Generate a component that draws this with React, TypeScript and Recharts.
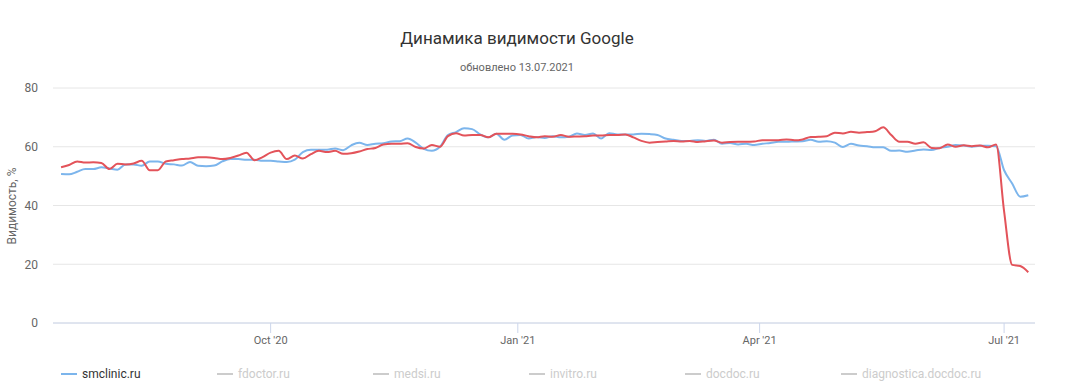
import { LineChart, Line, XAxis, YAxis, CartesianGrid } from "recharts";

// smclinic.ru, Google visibility %, one value every 3 days from 15 Jul 2020
const smclinicValues = [
  50.7, 50.6, 51.5, 52.4, 52.4, 53.0, 52.6, 52.2, 54.0, 54.0,
  53.5, 55.0, 55.0, 54.2, 54.0, 53.6, 54.8, 53.5, 53.4, 53.6,
  55.0, 55.8, 55.8, 55.6, 55.6, 55.2, 55.2, 55.0, 54.8, 55.6,
  58.2, 59.0, 59.0, 59.0, 59.4, 58.8, 60.5, 61.4, 60.6, 61.0,
  61.2, 61.8, 61.9, 62.8, 61.4, 59.3, 58.6, 60.0, 64.0, 65.0,
  66.3, 66.0, 64.2, 63.2, 64.4, 62.4, 63.8, 64.0, 62.8, 63.3,
  63.0, 63.6, 63.2, 63.4, 64.5, 64.0, 64.5, 62.8, 64.6, 64.2,
  64.2, 64.2, 64.4, 64.3, 64.0, 62.8, 62.4, 62.0, 62.0, 62.2,
  62.0, 62.4, 61.0, 61.3, 60.8, 61.0, 60.6, 61.0, 61.3, 61.7,
  61.7, 61.8, 61.9, 62.4, 61.7, 61.9, 61.4, 59.9, 61.0, 60.4,
  60.2, 59.8, 59.8, 58.6, 58.7, 58.3, 58.7, 59.1, 58.9, 59.6,
  60.0, 60.6, 60.4, 60.0, 60.3, 60.3, 60.2, 52.0, 47.5, 43.0,
  43.5,
];

// second (red) line, same dates
const compareValues = [
  53.0, 53.8, 55.0, 54.6, 54.7, 54.5, 52.4, 54.2, 54.0, 54.3,
  55.2, 52.0, 52.0, 55.0, 55.4, 55.8, 56.0, 56.4, 56.4, 56.2,
  55.8, 56.2, 57.0, 58.0, 55.4, 56.5, 58.0, 58.6, 55.8, 57.0,
  56.0, 57.5, 58.6, 58.2, 58.6, 57.6, 57.8, 58.4, 59.2, 59.6,
  60.8, 61.0, 61.0, 61.2, 59.9, 59.4, 60.6, 60.0, 63.6, 64.6,
  63.8, 64.0, 64.0, 63.2, 64.4, 64.4, 64.4, 64.2, 63.6, 63.2,
  63.6, 63.4, 64.0, 63.4, 63.5, 63.6, 63.8, 63.8, 64.0, 64.0,
  64.2, 63.2, 62.0, 61.4, 61.6, 61.8, 62.0, 61.8, 62.0, 61.6,
  61.9, 62.1, 61.4, 61.6, 61.7, 61.7, 61.8, 62.2, 62.2, 62.2,
  62.5, 62.2, 62.5, 63.3, 63.4, 63.6, 64.8, 64.5, 65.1, 64.8,
  65.0, 65.3, 66.6, 64.0, 61.7, 61.7, 61.0, 61.5, 59.6, 59.5,
  60.8, 60.0, 60.5, 60.2, 60.4, 59.8, 60.8, 38.0, 19.8, 19.4,
  17.3,
];

const START = Date.UTC(2020, 6, 15);
const STEP_DAYS = 3;
const DAY = 86400000;

const xTicks = [Date.UTC(2020, 9, 1), Date.UTC(2021, 0, 1), Date.UTC(2021, 3, 1), Date.UTC(2021, 6, 1)];
const xTickLabels = ["Oct '20", "Jan '21", "Apr '21", "Jul '21"];
const yTicks = [0, 20, 40, 60, 80];
const legendNames = ["smclinic.ru", "fdoctor.ru", "medsi.ru", "invitro.ru", "docdoc.ru", "diagnostica.docdoc.ru"];

const rows = smclinicValues.map((v, i) => ({
  t: START + i * STEP_DAYS * DAY,
  smclinic: v,
  compare: compareValues[i],
}));

const FONT = "Roboto, 'Open Sans', sans-serif";
const BLUE = "#7cb5ec";
const RED = "#e3535a";

export default function App() {
  return (
    <div style={{ position: "absolute", left: 0, top: 0, width: 1066, height: 386, background: "#fff", fontFamily: FONT }}>
      <div style={{ position: "absolute", left: 317, width: 400, top: 27, textAlign: "center", fontSize: 17, color: "#333", lineHeight: "22px" }}>
        Динамика видимости Google
      </div>
      <div style={{ position: "absolute", left: 317, width: 400, top: 60, textAlign: "center", fontSize: 11, color: "#666", lineHeight: "16px" }}>
        обновлено 13.07.2021
      </div>
      <div
        style={{
          position: "absolute", left: 12, top: 206, width: 120, marginLeft: -60, marginTop: -8,
          textAlign: "center", fontSize: 12, color: "#666", lineHeight: "16px", transform: "rotate(-90deg)",
        }}
      >
        Видимость, %
      </div>
      <div style={{ position: "absolute", left: 0, top: 0 }}>
        <LineChart width={1066} height={386} data={rows} margin={{ top: 88, right: 31, bottom: 33, left: 0 }}>
          <CartesianGrid horizontal vertical={false} stroke="#e6e6e6" />
          <XAxis
            dataKey="t"
            type="number"
            scale="time"
            domain={[Date.UTC(2020, 6, 12), Date.UTC(2021, 6, 12, 12)]}
            ticks={xTicks}
            tickFormatter={(v: number) => xTickLabels[xTicks.indexOf(v)] ?? ""}
            height={30}
            stroke="#ccd6eb"
            tickSize={10}
            tickMargin={3}
            tick={{ fill: "#666", fontSize: 11, fontFamily: FONT }}
          />
          <YAxis
            domain={[0, 80]}
            ticks={yTicks}
            width={53}
            axisLine={false}
            tickLine={false}
            tickSize={0}
            tickMargin={15}
            tick={{ fill: "#666", fontSize: 12, fontFamily: FONT }}
          />
          <Line type="monotone" dataKey="smclinic" stroke={BLUE} strokeWidth={2} dot={false} isAnimationActive={false} />
          <Line type="monotone" dataKey="compare" stroke={RED} strokeWidth={2} dot={false} isAnimationActive={false} />
        </LineChart>
      </div>
      <div style={{ position: "absolute", left: 61, top: 366, display: "flex", fontSize: 12, lineHeight: "16px" }}>
        {legendNames.map((name, i) => (
          <div key={name} style={{ width: 156, display: "flex", alignItems: "center", color: i === 0 ? "#333" : "#ccc" }}>
            <span style={{ display: "inline-block", width: 16, height: 2, background: i === 0 ? BLUE : "#ccc", marginRight: 5 }} />
            {name}
          </div>
        ))}
      </div>
    </div>
  );
}
